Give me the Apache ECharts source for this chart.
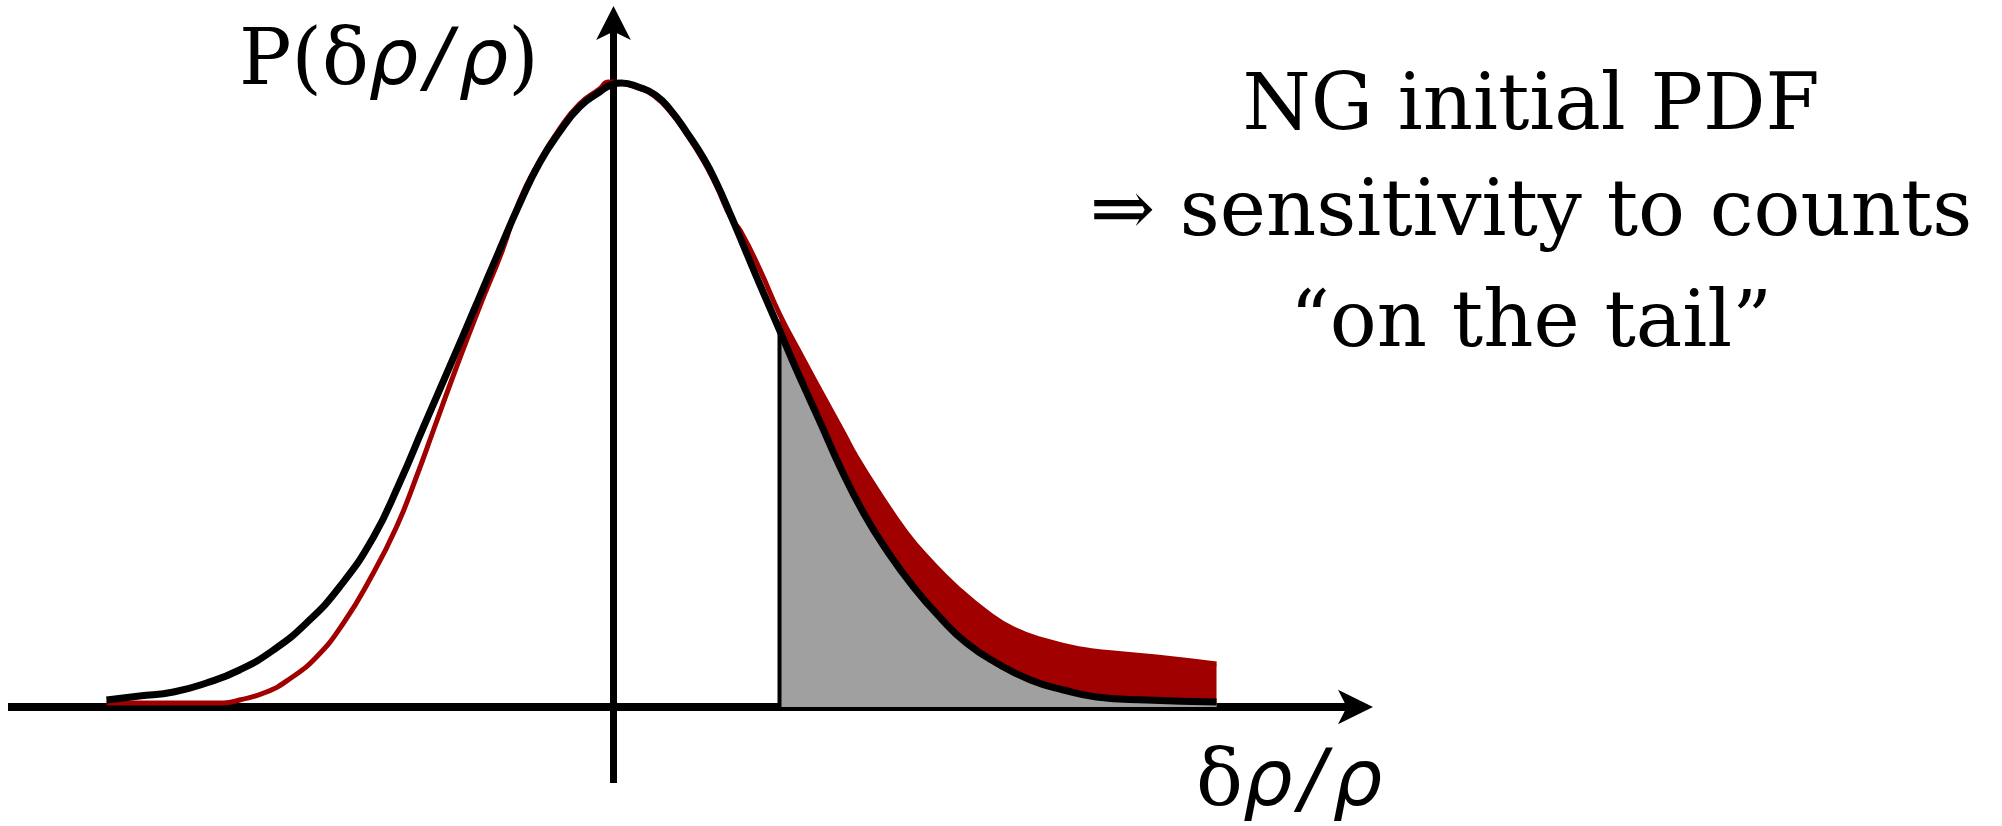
<!DOCTYPE html>
<html><head><meta charset="utf-8">
<script src="https://cdn.jsdelivr.net/npm/echarts@6/dist/echarts.min.js"></script>
<style>html,body{margin:0;padding:0;background:#fff}#c{width:2002px;height:826px}</style>
</head><body><div id="c"></div>
<script>
// Gaussian (black) initial PDF
const blackX = [-5.07,-4.74,-4.40,-4.07,-3.74,-3.40,-3.07,-2.74,-2.40,-2.14,-1.90,-1.64,-1.37,-1.14,-0.94,-0.74,-0.54,-0.34,-0.14,0.00,0.08,0.25,0.42,0.57,0.73,0.90,1.03,1.18,1.33,1.50,1.66,1.80,1.97,2.07,2.27,2.50,2.73,3.00,3.27,3.53,3.83,4.17,4.50,4.83,5.33,6.03];
const blackY = [0.07,0.11,0.15,0.24,0.37,0.57,0.84,1.20,1.70,2.24,2.80,3.40,4.03,4.57,5.03,5.44,5.75,6.00,6.15,6.23,6.24,6.20,6.12,5.97,5.75,5.49,5.24,4.90,4.54,4.14,3.77,3.44,3.06,2.84,2.39,1.94,1.57,1.20,0.89,0.64,0.44,0.27,0.17,0.10,0.07,0.05];
// Non-Gaussian (red) initial PDF
const redX = [-5.07,-4.24,-3.90,-3.74,-3.47,-3.24,-2.97,-2.70,-2.44,-2.17,-1.96,-1.80,-1.57,-1.34,-1.11,-0.94,-0.74,-0.54,-0.34,-0.14,-0.05,0.25,0.42,0.57,0.73,0.90,1.03,1.18,1.27,1.47,1.66,1.87,2.07,2.30,2.43,2.67,2.93,3.17,3.43,3.73,4.00,4.33,4.67,5.00,5.43,6.03];
const redY = [0.04,0.04,0.04,0.07,0.15,0.28,0.50,0.84,1.27,1.80,2.33,2.77,3.40,4.00,4.57,5.06,5.46,5.78,6.03,6.18,6.25,6.19,6.10,5.95,5.73,5.46,5.21,4.88,4.76,4.36,3.93,3.53,3.16,2.74,2.50,2.12,1.74,1.46,1.20,0.95,0.78,0.66,0.58,0.54,0.50,0.43];
// threshold on δρ/ρ
const threshold = 1.66;
// texts
const noteLines = ['NG initial PDF', '\u21D2 sensitivity to counts', '\u201Con the tail\u201D'];
const yTitle = '{r|P(\u03B4}{i|\u03C1}{s|/}{i|\u03C1}{r|)}';
const xTitle = '{r|\u03B4}{i|\u03C1}{s|/}{i|\u03C1}';

const zip = (xs, ys) => xs.map((x, i) => [x, ys[i]]);
const blackPts = zip(blackX, blackY);
const redPts = zip(redX, redY);
const blackTail = blackPts.filter(p => p[0] >= threshold);
const redTail = redPts.filter(p => p[0] >= threshold);
const tIdx = blackX.indexOf(threshold);

const serif = "'DejaVu Serif', 'Liberation Serif', serif";
const sans = "'DejaVu Sans', sans-serif";
const rich = {
  r: { fontFamily: serif, fontSize: 78, fill: '#000', lineHeight: 90 },
  i: { fontFamily: sans, fontStyle: 'italic', fontSize: 78, fill: '#000', lineHeight: 90 },
  s: { fontFamily: sans, fontStyle: 'italic', fontSize: 78, fill: '#000', lineHeight: 90, padding: [0, 7, 0, 7] }
};
const SM = 0.5;

const chart = echarts.init(document.getElementById('c'), null, { renderer: 'canvas' });
function axis(min, max, width, size) {
  return {
    type: 'value', min: min, max: max,
    axisTick: { show: false }, axisLabel: { show: false }, splitLine: { show: false },
    axisLine: { show: true, onZero: true, symbol: ['none', 'arrow'], symbolSize: size, symbolOffset: [0, 9],
      lineStyle: { color: '#000', width: width, cap: 'butt' } }
  };
}
chart.setOption({
  backgroundColor: '#fff',
  animation: false,
  grid: { left: 8, top: 15, width: 1356, height: 768, containLabel: false },
  xAxis: axis(-6.055, 7.505, 8, [26, 35]),
  yAxis: axis(-0.76, 6.92, 7, [26, 34]),
  series: [
    { name: 'NG tail', type: 'line', data: redTail, smooth: SM, showSymbol: false,
      lineStyle: { width: 0 }, areaStyle: { color: '#a00000', opacity: 1 }, z: 1 },
    { name: 'G tail', type: 'line', data: blackTail, smooth: SM, showSymbol: false,
      lineStyle: { width: 0 }, areaStyle: { color: '#a0a0a0', opacity: 1 }, z: 2 },
    { name: 'threshold', type: 'line', data: [[threshold, 0], [threshold, blackY[tIdx]]], showSymbol: false,
      lineStyle: { color: '#000', width: 4 }, z: 3 },
    { name: 'NG PDF', type: 'line', data: redPts, smooth: SM, showSymbol: false,
      lineStyle: { color: '#a00000', width: 5 }, z: 4 },
    { name: 'Gaussian PDF', type: 'line', data: blackPts, smooth: SM, showSymbol: false,
      lineStyle: { color: '#000', width: 7 }, z: 5 }
  ],
  graphic: [
    ...noteLines.map((t, i) => ({
      type: 'text', x: 1531, y: [132, 238, 349][i] - 23,
      style: { text: t, font: "78px " + serif, fill: '#000', align: 'center', verticalAlign: 'middle' }
    })),
    { type: 'text', x: 239, y: 87 - 23,
      style: { text: yTitle, rich: rich, align: 'left', verticalAlign: 'middle' } },
    { type: 'text', x: 1196, y: 808 - 23,
      style: { text: xTitle, rich: rich, align: 'left', verticalAlign: 'middle' } }
  ]
});
</script></body></html>
